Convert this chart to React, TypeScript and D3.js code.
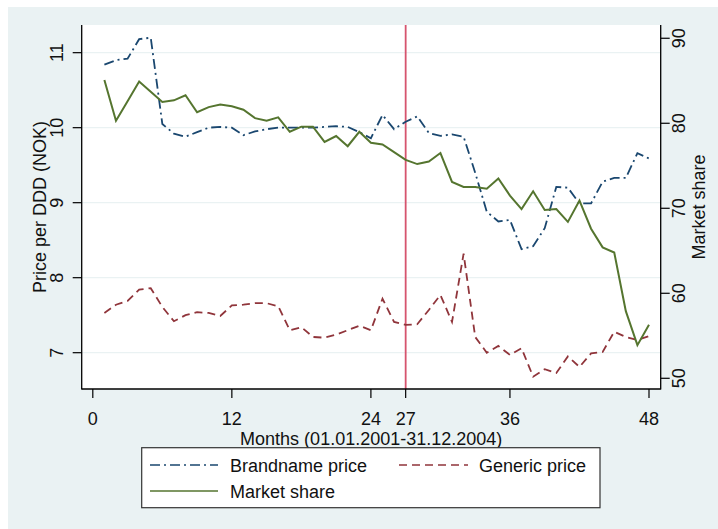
import * as d3 from "d3";

const months = [
  1, 2, 3, 4, 5, 6, 7, 8, 9, 10, 11, 12, 13, 14, 15, 16, 17, 18, 19, 20, 21, 22, 23, 24,
  25, 26, 27, 28, 29, 30, 31, 32, 33, 34, 35, 36, 37, 38, 39, 40, 41, 42, 43, 44, 45, 46, 47, 48,
];

// price per DDD, brand name product (NOK)
const brandPrice = [
  10.84, 10.9, 10.92, 11.18, 11.2, 10.05, 9.92, 9.88, 9.94, 10.0, 10.01, 10.0,
  9.9, 9.95, 9.98, 10.0, 10.0, 10.0, 10.0, 10.01, 10.02, 10.01, 9.94, 9.86,
  10.17, 9.98, 10.08, 10.15, 9.93, 9.89, 9.91, 9.88, 9.4, 8.88, 8.75, 8.77,
  8.38, 8.42, 8.66, 9.21, 9.2, 8.99, 8.99, 9.28, 9.33, 9.33, 9.66, 9.59,
];

// price per DDD, generics (NOK)
const genericPrice = [
  7.53, 7.64, 7.69, 7.84, 7.86, 7.61, 7.42, 7.5, 7.54, 7.53, 7.49, 7.63,
  7.64, 7.66, 7.66, 7.62, 7.3, 7.34, 7.21, 7.2, 7.24, 7.3, 7.36, 7.3,
  7.72, 7.41, 7.37, 7.38, 7.57, 7.77, 7.41, 8.32, 7.21, 7.0, 7.09, 6.97,
  7.06, 6.68, 6.78, 6.73, 6.95, 6.81, 6.99, 7.01, 7.28, 7.21, 7.17, 7.22,
];

// brand name market share (%)
const marketShare = [
  85.1, 80.3, 82.6, 84.9, 83.7, 82.5, 82.7, 83.3, 81.3, 81.9, 82.2, 82.0,
  81.6, 80.6, 80.3, 80.7, 79.0, 79.6, 79.6, 77.8, 78.5, 77.3, 79.0, 77.7,
  77.5, 76.6, 75.7, 75.2, 75.5, 76.5, 73.1, 72.5, 72.5, 72.3, 73.5, 71.5,
  69.9, 72.0, 69.8, 69.9, 68.4, 70.9, 67.6, 65.4, 64.8, 57.9, 53.9, 56.3,
];

const xTicks = [0, 12, 24, 27, 36, 48];
const priceTicks = [7, 8, 9, 10, 11];
const shareTicks = [50, 60, 70, 80, 90];
const cutMonth = 27;

const FONT = "'Liberation Sans', Arial, sans-serif";
const BRAND = "#1a476f";
const GENERIC = "#90353b";
const SHARE = "#55752f";
const VLINE = "#d6546e";
const BG = "#eaf2f3";

export default function App() {
  const W = 718, H = 529;
  const left = 81.7, right = 660.7, top = 25, bottom = 389;

  const x = d3.scaleLinear().domain([0, 48]).range([92.8, 649]);
  const yP = d3.scaleLinear().domain([6.516, 11.369]).range([bottom, top]);
  const yS = d3.scaleLinear().domain([48.74, 91.56]).range([bottom, top]);

  const priceLine = (vals: number[]) =>
    d3.line<number>().x((_, i) => x(months[i])).y((d) => yP(d))(vals) || "";
  const shareLine =
    d3.line<number>().x((_, i) => x(months[i])).y((d) => yS(d))(marketShare) || "";

  const tick = 9;

  return (
    <svg
      width={W}
      height={H}
      style={{ position: "absolute", left: 0, top: 0 }}
      fontFamily={FONT}
    >
      <rect x={0} y={0} width={W} height={H} fill="#fff" />
      <rect x={8} y={7} width={W - 8} height={H - 7} fill={BG} />
      <rect x={left} y={top} width={right - left} height={bottom - top} fill="#fff" />

      {/* grid */}
      {priceTicks.map((t) => (
        <line key={"g" + t} x1={left} x2={right} y1={yP(t)} y2={yP(t)} stroke={BG} strokeWidth={1.2} />
      ))}

      {/* cut-off line */}
      <line x1={x(cutMonth)} x2={x(cutMonth)} y1={top} y2={bottom} stroke={VLINE} strokeWidth={1.8} />

      {/* series */}
      <path d={priceLine(genericPrice)} fill="none" stroke={GENERIC} strokeWidth={1.8} strokeDasharray="8,5" />
      <path d={priceLine(brandPrice)} fill="none" stroke={BRAND} strokeWidth={1.8} strokeDasharray="10,4,2,4" />
      <path d={shareLine} fill="none" stroke={SHARE} strokeWidth={2} />

      {/* axes */}
      <line x1={left} x2={left} y1={top} y2={bottom + 0.6} stroke="#000" strokeWidth={1.3} />
      <line x1={right} x2={right} y1={top} y2={bottom + 0.6} stroke="#000" strokeWidth={1.3} />
      <line x1={left} x2={right} y1={bottom} y2={bottom} stroke="#000" strokeWidth={1.3} />

      {/* left axis */}
      {priceTicks.map((t) => (
        <g key={"p" + t}>
          <line x1={left - tick} x2={left} y1={yP(t)} y2={yP(t)} stroke="#000" strokeWidth={1.2} />
          <text
            transform={`translate(${left - 19},${yP(t)}) rotate(-90)`}
            textAnchor="middle"
            fontSize={18}
            fill="#111"
          >
            {t}
          </text>
        </g>
      ))}
      <text
        transform={`translate(46,${(top + bottom) / 2}) rotate(-90)`}
        textAnchor="middle"
        fontSize={18}
        fill="#111"
      >
        Price per DDD (NOK)
      </text>

      {/* right axis */}
      {shareTicks.map((t) => (
        <g key={"s" + t}>
          <line x1={right} x2={right + tick} y1={yS(t)} y2={yS(t)} stroke="#000" strokeWidth={1.2} />
          <text
            transform={`translate(${right + 24},${yS(t)}) rotate(-90)`}
            textAnchor="middle"
            fontSize={18}
            fill="#111"
          >
            {t}
          </text>
        </g>
      ))}
      <text
        transform={`translate(705,${(top + bottom) / 2}) rotate(-90)`}
        textAnchor="middle"
        fontSize={18}
        fill="#111"
      >
        Market share
      </text>

      {/* bottom axis */}
      {xTicks.map((t) => (
        <g key={"x" + t}>
          <line x1={x(t)} x2={x(t)} y1={bottom} y2={bottom + tick} stroke="#000" strokeWidth={1.2} />
          <text x={x(t)} y={425} textAnchor="middle" fontSize={18} fill="#111">
            {t}
          </text>
        </g>
      ))}
      <text x={(left + right) / 2} y={445} textAnchor="middle" fontSize={18} fill="#111">
        Months (01.01.2001-31.12.2004)
      </text>

      {/* legend */}
      <rect x={141.7} y={447.7} width={458.3} height={60} fill="#fff" stroke="#333" strokeWidth={1.2} />
      <line x1={150} x2={218} y1={465} y2={465} stroke={BRAND} strokeWidth={1.6} strokeDasharray="10,4,2,4" />
      <text x={230} y={472} fontSize={18} fill="#111">Brandname price</text>
      <line x1={399} x2={468} y1={465} y2={465} stroke={GENERIC} strokeWidth={1.6} strokeDasharray="8,5" />
      <text x={479} y={472} fontSize={18} fill="#111">Generic price</text>
      <line x1={150} x2={218} y1={491} y2={491} stroke={SHARE} strokeWidth={1.6} />
      <text x={230} y={497.5} fontSize={18} fill="#111">Market share</text>
    </svg>
  );
}
